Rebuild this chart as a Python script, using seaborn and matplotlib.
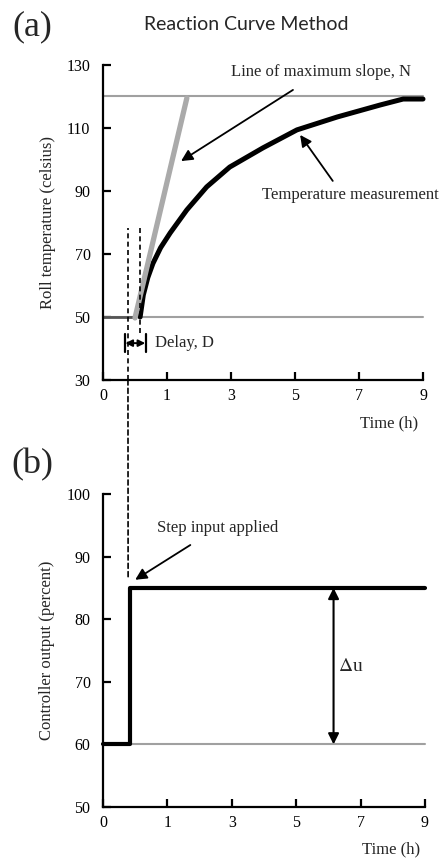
import numpy as np
import pandas as pd
import matplotlib
matplotlib.use("Agg")
import matplotlib.pyplot as plt
from matplotlib.patches import ConnectionPatch
import seaborn as sns

# ---- data (x in evenly spaced tick-position units; labels below) ----
x_tick_pos = [0, 1, 2, 3, 4, 5]
x_tick_labels = ["0", "1", "3", "5", "7", "9"]
y_ticks_a = [30, 50, 70, 90, 110, 130]
y_ticks_b = [50, 60, 70, 80, 90, 100]

temp_x = [0.58, 0.63, 0.7, 0.78, 0.9, 1.05, 1.31, 1.62, 1.98, 2.5, 3.03, 3.66, 4.33, 4.69, 5.0]
temp_y = [50, 57, 62.5, 67, 72, 76.7, 84, 91.3, 97.6, 103.7, 109.4, 113.5, 117.3, 119.2, 119.2]
pre_x = [0.0, 0.5]
pre_y = [50, 50]
slope_x = [0.5, 1.31]
slope_y = [49.7, 119.5]
baseline_temp = 50
final_temp = 120
delay_start = 0.39
delay_end = 0.58

step_x = [0.0, 0.42, 0.42, 5.0]
step_y = [60, 60, 85, 85]
baseline_out = 60
final_out = 85

sns.set_style("ticks")
plt.rcParams["font.family"] = ["Liberation Serif", "DejaVu Serif"]
plt.rcParams["mathtext.fontset"] = "stix"

fig = plt.figure(figsize=(4.41, 8.58), dpi=100)
ax1 = fig.add_axes([103/441, 1-380/858, 320/441, 315/858])
ax2 = fig.add_axes([103/441, 1-807/858, 322/441, 313/858])

fs = 12
tfs = 11.5
gray = "#a0a0a0"

def style_axis(ax, yticks, ylim):
    ax.set_xlim(0, 5)
    ax.set_ylim(*ylim)
    ax.set_xticks(x_tick_pos)
    ax.set_xticklabels(x_tick_labels)
    ax.set_yticks(yticks)
    sns.despine(ax=ax)
    for s in ["left", "bottom"]:
        ax.spines[s].set_linewidth(1.6)
        ax.spines[s].set_color("black")
    ax.tick_params(direction="in", length=6, width=1.6, labelsize=tfs, colors="black")
    ax.tick_params(axis="y", pad=9)
    ax.tick_params(axis="x", pad=6)
    ax.set_facecolor("white")

# ---- panel (a) ----
style_axis(ax1, y_ticks_a, (30, 130))
ax1.plot([0, 5], [baseline_temp, baseline_temp], color=gray, lw=1.5, clip_on=False, zorder=1)
ax1.plot([0, 5], [final_temp, final_temp], color=gray, lw=1.5, clip_on=False, zorder=1)
ax1.plot(pre_x, pre_y, color="#555555", lw=2.0, zorder=2)
sns.lineplot(x=temp_x, y=temp_y, ax=ax1, color="black", lw=3.6, sort=False,
             estimator=None, zorder=3)
ax1.lines[-1].set_clip_on(False)
ax1.lines[-1].set_solid_joinstyle("round")
sns.lineplot(x=slope_x, y=slope_y, ax=ax1, color="#aaaaaa", lw=3.8, sort=False,
             estimator=None, zorder=4)

ax1.plot([delay_start, delay_start], [30, 78.3], color="black", lw=1.2,
         linestyle=(0, (3, 2)), zorder=5)
ax1.plot([delay_end, delay_end], [45, 78.3], color="black", lw=1.2,
         linestyle=(0, (3, 2)), zorder=5)

# delay bracket
ax1.annotate("", xy=(0.35, 41.7), xytext=(0.66, 41.7),
             arrowprops=dict(arrowstyle="<|-|>", lw=1.4, color="black",
                             mutation_scale=10, shrinkA=0, shrinkB=0))
ax1.plot([0.34, 0.34], [38.8, 44.6], color="black", lw=1.6)
ax1.plot([0.67, 0.67], [38.8, 44.6], color="black", lw=1.6)
ax1.text(0.81, 41.7, "Delay, D", fontsize=fs, ha="left", va="center")

ax1.annotate("Line of maximum slope, N", xy=(1.22, 99.5), xytext=(3.41, 127.8),
             fontsize=fs, ha="center", va="center",
             arrowprops=dict(arrowstyle="-|>", lw=1.3, color="black",
                             mutation_scale=17, shrinkA=9, shrinkB=0))
ax1.annotate("", xy=(3.08, 107.8), xytext=(3.59, 93.2),
             arrowprops=dict(arrowstyle="-|>", lw=1.3, color="black",
                             mutation_scale=17, shrinkA=0, shrinkB=0))
ax1.text(3.86, 88.7, "Temperature measurement", fontsize=fs, ha="center", va="center",
         clip_on=False)

ax1.set_ylabel("Roll temperature (celsius)", fontsize=fs, labelpad=8)
ax1.set_xlabel("")
ax1.text(0.985, -0.137, "Time (h)", transform=ax1.transAxes, fontsize=fs,
         ha="right", va="center")

# ---- panel (b) ----
style_axis(ax2, y_ticks_b, (50, 100))
ax2.plot([0, 5], [baseline_out, baseline_out], color=gray, lw=1.5, clip_on=False, zorder=1)
sns.lineplot(x=step_x, y=step_y, ax=ax2, color="black", lw=3.0, sort=False,
             estimator=None, zorder=3)
ax2.lines[-1].set_clip_on(False)

ax2.annotate("", xy=(3.58, final_out), xytext=(3.58, baseline_out),
             arrowprops=dict(arrowstyle="<|-|>", lw=1.5, color="black",
                             mutation_scale=16, shrinkA=0, shrinkB=0))
ax2.text(3.84, 72.4, r"$\Delta$u", fontsize=14, ha="center", va="center")

ax2.annotate("Step input applied", xy=(0.5, 86.3), xytext=(1.78, 94.6),
             fontsize=fs, ha="center", va="center",
             arrowprops=dict(arrowstyle="-|>", lw=1.3, color="black",
                             mutation_scale=17, shrinkA=8, shrinkB=0))

ax2.set_ylabel("Controller output (percent)", fontsize=fs, labelpad=8)
ax2.set_xlabel("")
ax2.text(0.985, -0.135, "Time (h)", transform=ax2.transAxes, fontsize=fs,
         ha="right", va="center")

# dashed connector across panels
con = ConnectionPatch(xyA=(delay_start, 30), coordsA=ax1.transData,
                      xyB=(delay_start, 86.3), coordsB=ax2.transData,
                      color="black", lw=1.2, linestyle=(0, (3, 2)))
fig.add_artist(con)

# titles and panel labels
fig.text(246/441, 1-25/858, "Reaction Curve Method", fontsize=14,
         family=["Lato", "DejaVu Sans"], ha="center", va="center")
fig.text(32/441, 1-27/858, "(a)", fontsize=26, ha="center", va="center")
fig.text(32/441, 1-465/858, "(b)", fontsize=26, ha="center", va="center")

fig.savefig("out.png", dpi=100, facecolor="white")
